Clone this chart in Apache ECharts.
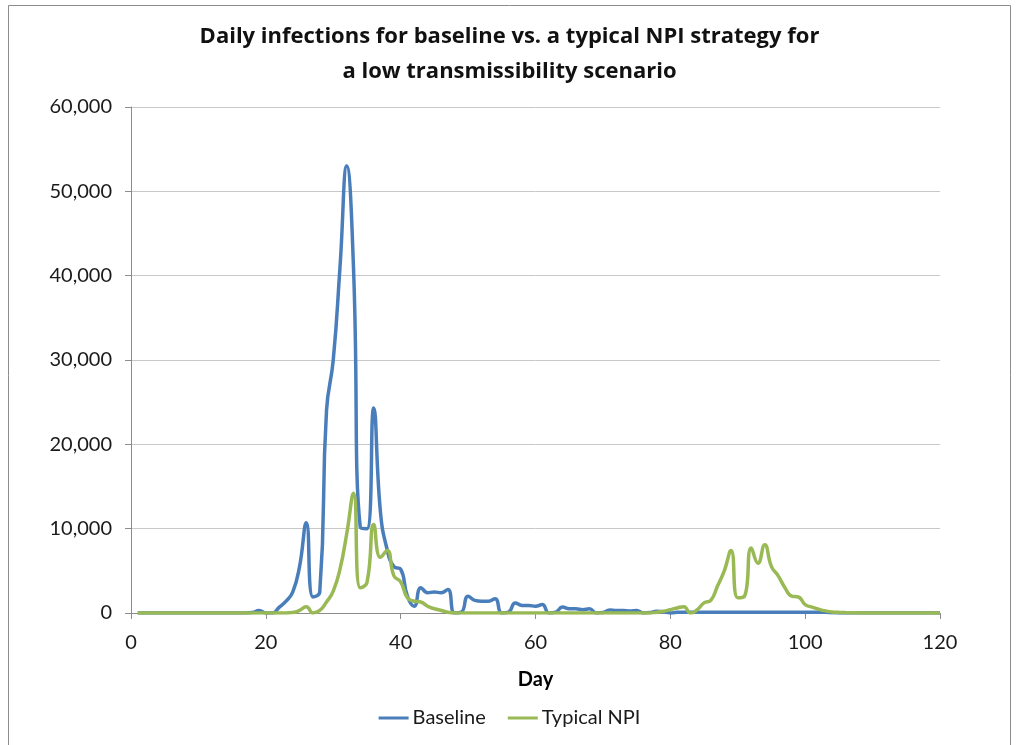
<!DOCTYPE html>
<html>
<head>
<meta charset="utf-8">
<script src="https://cdn.jsdelivr.net/npm/echarts@6/dist/echarts.min.js"></script>
<style>
  html, body { margin: 0; padding: 0; background: #fff; }
  #chart { width: 1019px; height: 745px; }
</style>
</head>
<body>
<div id="chart"></div>
<script>
// Daily infections by simulation day (days 1..120)
const firstDay = 1;

const baseline = [
  0, 0, 0, 0, 0, 0, 0, 0, 0, 0,              // 1-10
  0, 0, 0, 0, 0, 0, 0, 50, 300, 0,           // 11-20
  0, 700, 1400, 2500, 5500, 10700, 1900, 2500, 24000, 30000,   // 21-30
  41000, 53000, 41000, 10200, 10000, 24300, 12000, 7500, 5500, 5200, // 31-40
  2000, 800, 3000, 2400, 2500, 2400, 2800, 0, 100, 2000,       // 41-50
  1500, 1400, 1400, 1700, 0, 100, 1200, 900, 900, 800,         // 51-60
  1000, 0, 100, 700, 500, 500, 400, 500, 0, 50,                // 61-70
  350, 300, 300, 250, 300, 0, 50, 200, 150, 0,                 // 71-80
  80, 80, 80, 80, 80, 80, 80, 80, 80, 80,                      // 81-90
  80, 80, 80, 80, 80, 80, 80, 80, 80, 80,                      // 91-100
  80, 80, 80, 30, 0, 0, 0, 0, 0, 0,                            // 101-110
  0, 0, 0, 0, 0, 0, 0, 0, 0, 0                                 // 111-120
];

const typicalNPI = [
  0, 0, 0, 0, 0, 0, 0, 0, 0, 0,              // 1-10
  0, 0, 0, 0, 0, 0, 0, 0, 0, 0,              // 11-20
  0, 0, 0, 50, 300, 750, 0, 300, 1300, 2600,                   // 21-30
  5200, 9400, 14200, 3000, 3600, 10500, 6600, 7400, 4400, 3700, // 31-40
  1800, 1400, 1300, 800, 500, 300, 100, 0, 0, 0,               // 41-50
  0, 0, 0, 0, 0, 0, 0, 0, 0, 0,                                // 51-60
  0, 0, 0, 0, 0, 0, 0, 0, 0, 0,                                // 61-70
  0, 0, 0, 0, 0, 0, 0, 100, 200, 400,                          // 71-80
  600, 750, 0, 400, 1200, 1500, 3200, 5000, 7400, 1800,        // 81-90
  2000, 7700, 5900, 8100, 5500, 4400, 3000, 2000, 1900, 1000,  // 91-100
  700, 450, 250, 120, 80, 50, 30, 10, 0, 0,                    // 101-110
  0, 0, 0, 0, 0, 0, 0, 0, 0, 0                                 // 111-120
];

const seriesNames = ['Baseline', 'Typical NPI'];
const xTicks = [0, 20, 40, 60, 80, 100, 120];
const yTicks = [0, 10000, 20000, 30000, 40000, 50000, 60000];

const toPairs = arr => arr.map((v, i) => [firstDay + i, v]);

const FONT = 'Lato';
const TITLE_FONT = 'Open Sans';
const chart = echarts.init(document.getElementById('chart'), null, { renderer: 'canvas' });

chart.setOption({
  backgroundColor: '#ffffff',
  animation: false,
  textStyle: { fontFamily: FONT },
  graphic: [{
    type: 'rect',
    shape: { x: 8.5, y: 5.5, width: 1002, height: 800 },
    style: { fill: 'none', stroke: '#8c8c8c', lineWidth: 1 },
    silent: true
  }],
  title: {
    text: 'Daily infections for baseline vs. a typical NPI strategy for\na low transmissibility scenario',
    left: 'center',
    top: 14,
    textStyle: { fontFamily: TITLE_FONT, fontSize: 22, fontWeight: 'bold', color: '#111', lineHeight: 35 }
  },
  legend: {
    data: seriesNames,
    bottom: 12,
    left: 'center',
    icon: 'rect',
    itemWidth: 30,
    itemHeight: 3,
    itemGap: 22,
    textStyle: { fontFamily: FONT, fontSize: 20, color: '#1a1a1a', padding: [0, 0, 0, -1] }
  },
  grid: { left: 131, right: 79, top: 107, bottom: 132, containLabel: false },
  xAxis: {
    type: 'value',
    min: xTicks[0],
    max: xTicks[xTicks.length - 1],
    interval: xTicks[1] - xTicks[0],
    name: 'Day',
    nameLocation: 'middle',
    nameGap: 57,
    nameTextStyle: { fontFamily: FONT, fontSize: 20, fontWeight: 'bold', color: '#000' },
    axisLine: { show: true, lineStyle: { color: '#8c8c8c', width: 1 } },
    axisTick: { show: true, length: 6, lineStyle: { color: '#8c8c8c' } },
    axisLabel: { fontFamily: FONT, fontSize: 20, color: '#1a1a1a', margin: 20 },
    splitLine: { show: false }
  },
  yAxis: {
    type: 'value',
    min: yTicks[0],
    max: yTicks[yTicks.length - 1],
    interval: yTicks[1] - yTicks[0],
    axisLine: { show: true, lineStyle: { color: '#8c8c8c', width: 1 } },
    axisTick: { show: true, length: 6, lineStyle: { color: '#8c8c8c' } },
    axisLabel: {
      fontFamily: FONT, fontSize: 20, color: '#1a1a1a', margin: 19,
      formatter: v => v.toLocaleString('en-US')
    },
    splitLine: { show: true, lineStyle: { color: '#c8c8c8', width: 1 } }
  },
  series: [
    {
      name: seriesNames[0],
      type: 'line',
      data: toPairs(baseline),
      smooth: 0.5,
      showSymbol: false,
      lineStyle: { color: '#4a7ebb', width: 3.5 },
      itemStyle: { color: '#4a7ebb' },
      z: 2
    },
    {
      name: seriesNames[1],
      type: 'line',
      data: toPairs(typicalNPI),
      smooth: 0.5,
      showSymbol: false,
      lineStyle: { color: '#98b954', width: 3.5 },
      itemStyle: { color: '#98b954' },
      z: 3
    }
  ]
});
</script>
</body>
</html>
